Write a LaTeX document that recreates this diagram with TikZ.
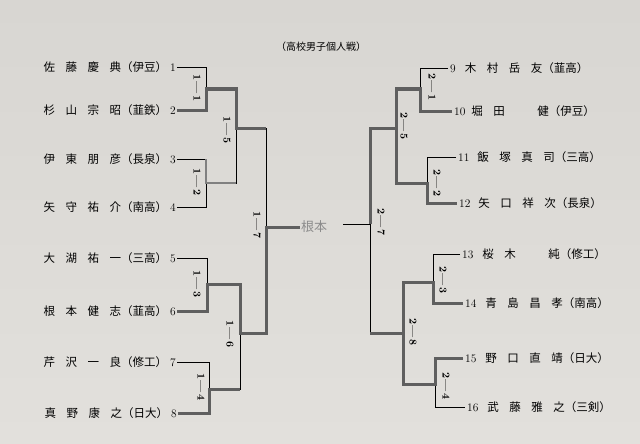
\documentclass[tikz,border=0pt]{standalone}
\usepackage{fontspec}
\newfontfamily\jp{Noto Sans CJK JP}
\newcommand{\gp}{\hspace{10.5pt}}
\newcommand{\NM}[5]{{\jp #1\gp#2\gp#3\gp#4（#5）}}
\definecolor{paperTop}{RGB}{216,214,210}
\definecolor{paperMid}{RGB}{231,229,225}
\definecolor{paperBot}{RGB}{226,224,220}
\definecolor{wincol}{RGB}{95,95,95}
\tikzset{
  thinline/.style={draw=black, line width=0.8pt},
  winline/.style={draw=wincol, line width=3pt},
  winlight/.style={draw=black!50, line width=2pt},
  lbl/.style={font=\bfseries\fontsize{10.5}{10.5}\selectfont, rotate=-90, inner sep=0pt},
  nmL/.style={anchor=east, inner sep=1pt, font=\fontsize{11.5}{12}\selectfont},
  nmR/.style={anchor=west, inner sep=2pt, font=\fontsize{11.5}{12}\selectfont},
}
\begin{document}
\begin{tikzpicture}[x=1pt,y=-1pt]
\useasboundingbox (0,0) rectangle (640,444);
\shade[top color=paperTop, middle color=paperMid, bottom color=paperBot] (0,0) rectangle (640,444);

% title
\node[font=\jp\fontsize{10}{10}\selectfont, inner sep=0pt] (title) at (321,47) {（高校男子個人戦）};

% left names
\node[nmL] (n1) at (177,67)  {\NM{佐}{藤}{慶}{典}{伊豆}\hspace{3pt}1};
\node[nmL] (n2) at (177,110) {\NM{杉}{山}{宗}{昭}{韮鉄}\hspace{3pt}2};
\node[nmL] (n3) at (177,159) {\NM{伊}{東}{朋}{彦}{長泉}\hspace{3pt}3};
\node[nmL] (n4) at (177,207) {\NM{矢}{守}{祐}{介}{南高}\hspace{3pt}4};
\node[nmL] (n5) at (177,258) {\NM{大}{湖}{祐}{一}{三高}\hspace{3pt}5};
\node[nmL] (n6) at (177,311) {\NM{根}{本}{健}{志}{韮高}\hspace{3pt}6};
\node[nmL] (n7) at (177,362) {\NM{芹}{沢}{一}{良}{修工}\hspace{3pt}7};
\node[nmL] (n8) at (178,413) {\NM{真}{野}{康}{之}{日大}\hspace{3pt}8};

% right names
\node[nmR] (n9)  at (448,68)  {9\hspace{9pt}\NM{木}{村}{岳}{友}{韮高}};
\node[nmR] (n10) at (452,111) {10\hspace{6pt}\NM{堀}{田}{\phantom{田}}{健}{伊豆}};
\node[nmR] (n11) at (456,157) {11\hspace{8pt}\NM{飯}{塚}{真}{司}{三高}};
\node[nmR] (n12) at (457,203) {12\hspace{8pt}\NM{矢}{口}{祥}{次}{長泉}};
\node[nmR] (n13) at (460,254) {13\hspace{9pt}\NM{桜}{木}{\phantom{木}}{純}{修工}};
\node[nmR] (n14) at (463,303) {14\hspace{9pt}\NM{青}{島}{昌}{孝}{南高}};
\node[nmR] (n15) at (463,358) {15\hspace{9pt}\NM{野}{口}{直}{靖}{日大}};
\node[nmR] (n16) at (465,407) {16\hspace{9pt}\NM{武}{藤}{雅}{之}{三剣}};

% winner (handwritten)
\node[font=\jp\fontsize{13}{13}\selectfont, text=black!45, anchor=west, inner sep=1pt] (nemoto) at (300,227) {根本};

% left bracket coordinates
\coordinate (m11t) at (206,67);  \coordinate (m11b) at (206,110); \coordinate (m11o) at (206,89);
\coordinate (m12t) at (206,159); \coordinate (m12b) at (206,207); \coordinate (m12o) at (206,183);
\coordinate (m13t) at (207,258); \coordinate (m13b) at (207,311); \coordinate (m13o) at (207,284);
\coordinate (m14t) at (209,362); \coordinate (m14b) at (209,413); \coordinate (m14o) at (209,389);
\coordinate (m15t) at (236,89);  \coordinate (m15b) at (236,183); \coordinate (m15o) at (236,128);
\coordinate (m16t) at (240,284); \coordinate (m16b) at (240,389); \coordinate (m16o) at (240,333);
\coordinate (m17t) at (266,128); \coordinate (m17b) at (266,333); \coordinate (m17o) at (266,227);

% right bracket coordinates
\coordinate (m21t) at (420,68);  \coordinate (m21b) at (420,111); \coordinate (m21o) at (420,89);
\coordinate (m22t) at (427,157); \coordinate (m22b) at (427,203); \coordinate (m22o) at (427,183);
\coordinate (m23t) at (433,254); \coordinate (m23b) at (433,303); \coordinate (m23o) at (433,282);
\coordinate (m24t) at (435,358); \coordinate (m24b) at (435,407); \coordinate (m24o) at (435,384);
\coordinate (m25t) at (396,89);  \coordinate (m25b) at (396,183); \coordinate (m25o) at (396,128);
\coordinate (m28t) at (403,282); \coordinate (m28b) at (403,384); \coordinate (m28o) at (403,333);
\coordinate (m27t) at (370,128); \coordinate (m27b) at (370,333); \coordinate (m27o) at (370,224);
\coordinate (c2) at (343,224);

% thin bracket lines, left
\draw[thinline] (n1.east) -- (m11t) -- (m11b) -- (n2.east);
\draw[thinline] (n3.east) -- (m12t) -- (m12b) -- (n4.east);
\draw[thinline] (n5.east) -- (m13t) -- (m13b) -- (n6.east);
\draw[thinline] (n7.east) -- (m14t) -- (m14b) -- (n8.east);
\draw[thinline] (m11o) -- (m15t) -- (m15b) -- (m12o);
\draw[thinline] (m13o) -- (m16t) -- (m16b) -- (m14o);
\draw[thinline] (m15o) -- (m17t) -- (m17b) -- (m16o);

% thin bracket lines, right
\draw[thinline] (n9.west) -- (m21t) -- (m21b) -- (n10.west);
\draw[thinline] (n11.west) -- (m22t) -- (m22b) -- (n12.west);
\draw[thinline] (n13.west) -- (m23t) -- (m23b) -- (n14.west);
\draw[thinline] (n15.west) -- (m24t) -- (m24b) -- (n16.west);
\draw[thinline] (m21o) -- (m25t) -- (m25b) -- (m22o);
\draw[thinline] (m23o) -- (m28t) -- (m28b) -- (m24o);
\draw[thinline] (m25o) -- (m27t) -- (m27b) -- (m28o);
\draw[thinline] (m27o) -- (c2);

% winner paths, left
\draw[winline] (n2.east) -- (m11b) -- (m11o) -- (m15t) -- (m15o) -- (m17t);
\draw[winlight] (m12t) -- (m12o) -- (m15b);
\draw[winline] (n6.east) -- (m13b) -- (m13o) -- (m16t) -- (m16o) -- (m17b) -- (m17o) -- (nemoto.west);
\draw[winline] (n8.east) -- (m14b) -- (m14o) -- (m16b);

% winner paths, right
\draw[winline] (n10.west) -- (m21b) -- (m21o) -- (m25t) -- (m25b) -- (m22o) -- (m22b) -- (n12.west);
\draw[winline] (m25o) -- (m27t) -- (m27o);
\draw[winline] (n14.west) -- (m23b) -- (m23o) -- (m28t) -- (m28b) -- (m24o) -- (m24t) -- (n15.west);
\draw[winline] (m28o) -- (m27b);

% match labels
\node[lbl] (l11) at (197,88)  {1\kern1pt---\kern1pt1};
\node[lbl] (l12) at (197,182) {1\kern1pt---\kern1pt2};
\node[lbl] (l13) at (197,284) {1\kern1pt---\kern1pt3};
\node[lbl] (l14) at (201,387) {1\kern1pt---\kern1pt4};
\node[lbl] (l15) at (227,130) {1\kern1pt---\kern1pt5};
\node[lbl] (l16) at (230,334) {1\kern1pt---\kern1pt6};
\node[lbl] (l17) at (257,225) {1\kern1pt---\kern1pt7};
\node[lbl] (l21) at (432,87)  {2\kern1pt---\kern1pt1};
\node[lbl] (l22) at (437,183) {2\kern1pt---\kern1pt2};
\node[lbl] (l23) at (443,280) {2\kern1pt---\kern1pt3};
\node[lbl] (l24) at (446,386) {2\kern1pt---\kern1pt4};
\node[lbl] (l25) at (404,126) {2\kern1pt---\kern1pt5};
\node[lbl] (l28) at (413,332) {2\kern1pt---\kern1pt8};
\node[lbl] (l27) at (381,222) {2\kern1pt---\kern1pt7};
\end{tikzpicture}
\end{document}
